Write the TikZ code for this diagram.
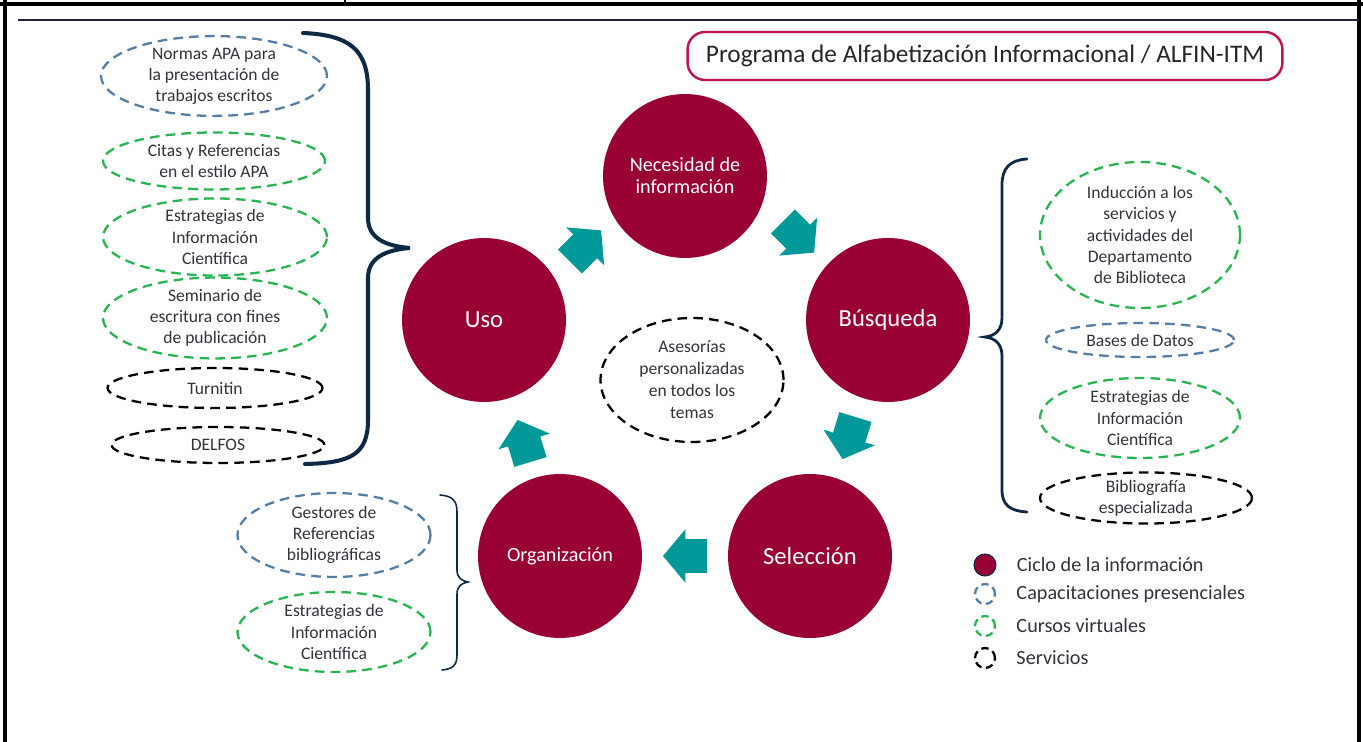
\documentclass[tikz,border=0pt]{standalone}
\usepackage{fontspec}
\setmainfont{Carlito}
\usetikzlibrary{shapes.geometric,shapes.arrows,positioning}
\definecolor{CicloRojo}{RGB}{153,0,51}
\definecolor{FlechaVerde}{RGB}{0,153,153}
\definecolor{BordeAzul}{RGB}{85,125,165}
\definecolor{BordeVerde}{RGB}{40,180,80}
\definecolor{LlaveAzul}{RGB}{15,40,70}
\definecolor{TituloBorde}{RGB}{190,20,85}
\definecolor{TextoGris}{RGB}{50,50,60}
\definecolor{LineaTabla}{RGB}{35,35,60}

\tikzset{
  ciclo/.style={circle, fill=CicloRojo, text=white, minimum size=3.28cm,
    inner sep=0pt, align=center, font=\fontsize{14}{16}\selectfont},
  cicloChico/.style={ciclo, font=\fontsize{11.5}{12.5}\selectfont},
  tema/.style={ellipse, draw, dash pattern=on 5.5pt off 3.5pt, line width=1.3pt,
    inner sep=0pt, align=center, text=TextoGris, font=\fontsize{10}{12}\selectfont},
  presencial/.style={tema, draw=BordeAzul},
  virtual/.style={tema, draw=BordeVerde},
  servicio/.style={tema, draw=black},
  flecha/.style={single arrow, fill=FlechaVerde, inner xsep=0pt, inner ysep=0.33cm,
    minimum height=0.88cm, single arrow head extend=0.2cm,
    single arrow head indent=0pt, single arrow tip angle=100},
  llave/.style={draw=LlaveAzul, line cap=round},
  marca/.style={circle, minimum size=0.4cm, inner sep=0pt, line width=1.3pt},
  leyenda/.style={anchor=west, inner sep=0pt, text=TextoGris,
    font=\fontsize{11.5}{14}\selectfont},
}

\begin{document}
\begin{tikzpicture}[x=0.02cm, y=-0.02cm]

    \useasboundingbox (0,0) rectangle (1363,742);

    % Bordes de la tabla
    \draw[line width=1.8pt] (0,4) -- (1363,4);
    \draw[line width=1.5pt] (345,0) -- (345,4);
    \draw[line width=1.8pt] (5,0) -- (5,742);
    \draw[line width=1.8pt] (1359,0) -- (1359,742);
    \draw[LineaTabla, line width=1.3pt] (18,20) -- (1359,20);

    % Titulo
    \node[draw=TituloBorde, line width=1.4pt, rounded corners=0.35cm,
      minimum width=11.9cm, minimum height=0.96cm, inner sep=0pt,
      font=\fontsize{14.4}{17}\selectfont, text=black!85] (titulo) at (985,56)
      {Programa de Alfabetización Informacional / ALFIN-ITM};

    % Ciclo de la informacion
    \node[cicloChico] (nec) at (685,176) {Necesidad de\\información};
    \node[ciclo] (busq) at (888,320) {Búsqueda};
    \node[ciclo] (sel) at (810,556) {Selección};
    \node[cicloChico] (org) at (560,556) {Organización};
    \node[ciclo] (uso) at (484,320) {Uso};

    \path (uso) -- node[flecha, shift={(1,-2)}, rotate=45, xshift=-4pt] (fUno) {} (nec);
    \path (nec) -- node[flecha, shift={(12,-11)}, rotate=-45, xshift=-4pt] (fDos) {} (busq);
    \path (busq) -- node[flecha, rotate=-107, xshift=-4pt] (fTres) {} (sel);
    \path (sel) -- node[flecha, rotate=180, xshift=-4pt] (fCuatro) {} (org);
    \path (org) -- node[flecha, shift={(2,3)}, rotate=107, xshift=-4pt] (fCinco) {} (uso);

    \node[servicio, minimum width=3.66cm, minimum height=2.48cm,
      font=\fontsize{10}{12.5}\selectfont] (asesorias) at (692,380)
      {Asesorías\\personalizadas\\en todos los\\temas};

    % Uso
    \node[presencial, minimum width=4.52cm, minimum height=1.4cm] (apa) at (214,76)
      {Normas APA para\\la presentación de\\trabajos escritos};
    \node[virtual, minimum width=4.44cm, minimum height=1.14cm] (citas) at (214,161)
      {Citas y Referencias\\en el estilo APA};
    \node[virtual, minimum width=4.48cm, minimum height=1.4cm] (estrUso) at (215,237)
      {Estrategias de\\Información\\Científica};
    \node[virtual, minimum width=4.48cm, minimum height=1.36cm] (seminario) at (215,318)
      {Seminario de\\escritura con fines\\de publicación};
    \node[servicio, minimum width=4.3cm, minimum height=0.8cm] (turnitin) at (215,388)
      {Turnitin};
    \node[servicio, minimum width=4.26cm, minimum height=0.72cm] (delfos) at (218,445)
      {DELFOS};

    \draw[llave, line width=2.3pt] (303,33) .. controls (350,35) and (368,50) .. (368,90)
      -- (368,218) .. controls (368,238) and (385,246) .. (410,248)
      .. controls (385,250) and (368,258) .. (368,278)
      -- (368,420) .. controls (368,455) and (350,463) .. (305,464);

    % Busqueda
    \node[virtual, minimum width=4.0cm, minimum height=2.92cm] (induccion) at (1140,235)
      {Inducción a los\\servicios y\\actividades del\\Departamento\\de Biblioteca};
    \node[presencial, minimum width=3.76cm, minimum height=0.68cm] (bases) at (1140,340)
      {Bases de Datos};
    \node[virtual, minimum width=4.0cm, minimum height=1.6cm] (estrBusq) at (1140,418)
      {Estrategias de\\Información\\Científica};
    \node[servicio, minimum width=4.24cm, minimum height=0.94cm] (biblio) at (1146,498)
      {Bibliografía\\especializada};

    \draw[llave, line width=1.6pt] (1027,159) .. controls (1010,160) and (1002,168) .. (1002,185)
      -- (1002,318) .. controls (1002,330) and (995,336) .. (985,337)
      .. controls (995,338) and (1002,344) .. (1002,356)
      -- (1002,490) .. controls (1002,505) and (1010,511) .. (1027,512);

    % Organizacion
    \node[presencial, minimum width=3.86cm, minimum height=1.68cm] (gestores) at (334,535)
      {Gestores de\\Referencias\\bibliográficas};
    \node[virtual, minimum width=3.86cm, minimum height=1.6cm] (estrOrg) at (334,632)
      {Estrategias de\\Información\\Científica};

    \draw[llave, line width=0.9pt] (440,495) .. controls (452,496) and (457,500) .. (457,512)
      -- (457,570) .. controls (457,578) and (462,581) .. (468,582)
      .. controls (462,583) and (457,586) .. (457,594)
      -- (457,655) .. controls (457,666) and (452,669) .. (442,670);

    % Leyenda
    \node[marca, fill=CicloRojo, draw=LlaveAzul, line width=0.6pt, minimum size=0.44cm]
      (leyCiclo) at (985,565) {};
    \node[marca, draw=BordeAzul, dash pattern=on 4.2pt off 2.6pt] (leyPresencial) at (985,594) {};
    \node[marca, draw=BordeVerde, dash pattern=on 4.2pt off 2.6pt] (leyVirtual) at (985,626) {};
    \node[marca, draw=black, dash pattern=on 4.2pt off 2.6pt] (leyServicio) at (985,658) {};

    \node[leyenda, right=0.4cm of leyCiclo] (txtCiclo) {Ciclo de la información};
    \node[leyenda, right=0.4cm of leyPresencial] (txtPresencial) {Capacitaciones presenciales};
    \node[leyenda, right=0.4cm of leyVirtual] (txtVirtual) {Cursos virtuales};
    \node[leyenda, right=0.4cm of leyServicio] (txtServicio) {Servicios};

\end{tikzpicture}
\end{document}
